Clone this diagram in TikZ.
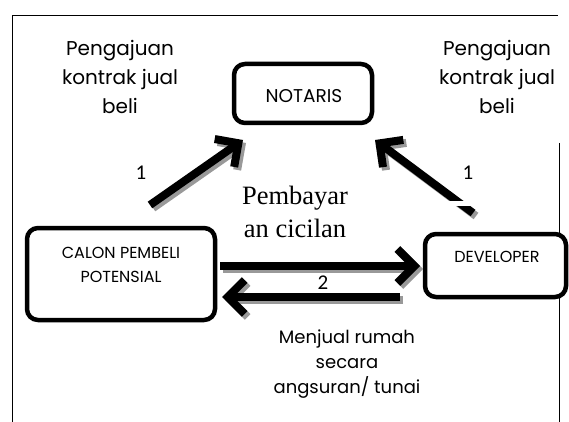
\documentclass[tikz,border=0pt]{standalone}
\usepackage{fontspec}
\setmainfont{Poppins}
\newfontfamily\serifr{Liberation Serif}
\newfontfamily\numf{Carlito}
\usetikzlibrary{arrows.meta}
\begin{document}
\begin{tikzpicture}[x=1pt,y=-1pt,
  box/.style={draw, line width=4.5pt, rounded corners=11pt, fill=white, inner sep=0pt},
  boxtxt/.style={align=center, font=\fontsize{16}{24}\selectfont},
  lbl/.style={align=center, font=\fontsize{20}{29}\selectfont},
  num/.style={font=\numf\fontsize{21}{24}\selectfont},
  arr/.style={line width=8pt, -{Straight Barb[length=17pt,width=34pt]}},
  arrshadow/.style={arr, draw=black!40, transform canvas={shift={(3pt,-3pt)}}}
]
\useasboundingbox (0,0) rectangle (569,422);
% frame
\draw[line width=1pt] (12,422) -- (12,16) -- (558,16);
\draw[line width=1pt] (559,143) -- (559,422);
% boxes
\node[box, minimum width=138pt, minimum height=59pt] (notaris) at (303,93.5) {};
\node[align=center, font=\fontsize{18.5}{24}\selectfont] (notarist) at (304,96) {NOTARIS};
\node[box, minimum width=188pt, minimum height=92pt] (calon) at (121,274) {};
\node[boxtxt] (calont) at (121,265) {CALON PEMBELI\\POTENSIAL};
\node[box, minimum width=141pt, minimum height=63pt] (dev) at (495.5,265.5) {};
\node[boxtxt] (devt) at (497,257) {DEVELOPER};
% arrow end points
\coordinate (a1s) at (150,205);
\coordinate (a1e) at (243,140);
\coordinate (b1s) at (473,213);
\coordinate (b1e) at (375,140);
\coordinate (a2s) at (220,266);
\coordinate (a2e) at (420,266);
\coordinate (b2s) at (400,297);
\coordinate (b2e) at (222,297);
% shadows
\draw[arrshadow] (a1s) -- (a1e);
\draw[arrshadow] (b1s) -- (b1e);
\draw[arrshadow] (a2s) -- (a2e);
\draw[arrshadow] (b2s) -- (b2e);
% arrows
\draw[arr] (a1s) -- (a1e);
\draw[arr] (b1s) -- (b1e);
\draw[arr] (a2s) -- (a2e);
\draw[arr] (b2s) -- (b2e);
\fill[white] (435,201) rectangle (485,206);
% labels
\node[lbl] (tl) at (120,77) {Pengajuan\\kontrak jual\\beli};
\node[lbl] (tr) at (497,77) {Pengajuan\\kontrak jual\\beli};
\node[align=center, font=\serifr\fontsize{26.5}{33}\selectfont] (pemb) at (295,212) {Pembayar\\an cicilan};
\node[align=center, font=\fontsize{18}{25}\selectfont] (jual) at (347,364) {Menjual rumah\\secara\\angsuran/ tunai};
\node[num] (n1l) at (141,173) {1};
\node[num] (n1r) at (468,173) {1};
\node[num] (n2) at (323,283) {2};
\end{tikzpicture}
\end{document}
